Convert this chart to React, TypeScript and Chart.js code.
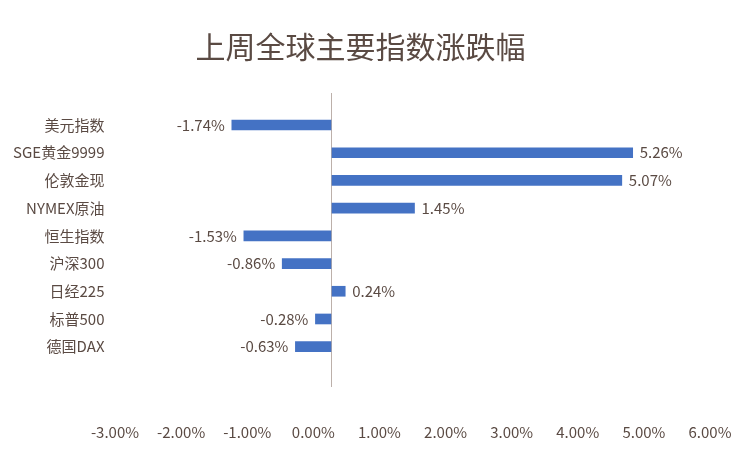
import React, { useEffect, useRef } from 'react';
import { Chart, registerables } from 'chart.js';

Chart.register(...registerables);

const chartTitle = '上周全球主要指数涨跌幅';
const categories = ['美元指数', 'SGE黄金9999', '伦敦金现', 'NYMEX原油', '恒生指数', '沪深300', '日经225', '标普500', '德国DAX'];
const changes = [-1.74, 5.26, 5.07, 1.45, -1.53, -0.86, 0.24, -0.28, -0.63];

// tick-label axis (as printed under the chart)
const tickAxisMin = -3;
const tickAxisMax = 6;
const tickStep = 1;
// value axis the bars are drawn on
const barAxisMin = -3.78;
const barAxisMax = 6.61;
// row axis (category index)
const rowAxisMin = -1.155;
const rowAxisMax = 9.455;

const TEXT = '#5a4a43';
const LINE = '#bcb0aa';
const BAR = '#4472C4';
const FONT = '"Noto Sans CJK SC", "Noto Sans", sans-serif';

const fmt = (v: number) => v.toFixed(2) + '%';

const valueLabels = {
  id: 'valueLabels',
  afterDatasetsDraw(chart: any) {
    const { ctx } = chart;
    const meta = chart.getDatasetMeta(0);
    ctx.save();
    ctx.font = `15px ${FONT}`;
    ctx.fillStyle = TEXT;
    ctx.textBaseline = 'middle';
    meta.data.forEach((el: any, i: number) => {
      const v = changes[i];
      const pos = v >= 0;
      ctx.textAlign = pos ? 'left' : 'right';
      ctx.fillText(fmt(v), el.x + (pos ? 7 : -7), el.y);
    });
    ctx.restore();
  },
};

export default function App() {
  const canvasRef = useRef<HTMLCanvasElement | null>(null);

  useEffect(() => {
    if (!canvasRef.current) return;
    const chart = new Chart(canvasRef.current, {
      type: 'bar',
      data: {
        datasets: [
          {
            data: changes.map((v, i) => ({ x: v, y: i })),
            backgroundColor: BAR,
            barThickness: 10,
            xAxisID: 'x',
            yAxisID: 'y',
          } as any,
        ],
      },
      options: {
        indexAxis: 'y',
        animation: false,
        responsive: false,
        devicePixelRatio: 1,
        layout: { padding: { top: 93, right: 40, bottom: 18, left: 0 } },
        plugins: {
          legend: { display: false },
          tooltip: { enabled: false },
          title: { display: false },
        },
        scales: {
          x: {
            type: 'linear',
            position: 'top',
            min: barAxisMin,
            max: barAxisMax,
            offset: false,
            ticks: { display: false, stepSize: 1 },
            grid: {
              drawTicks: false,
              lineWidth: 1,
              color: (c: any) => (c.tick && c.tick.value === 0 ? LINE : 'rgba(0,0,0,0)'),
            },
            border: { display: false },
          },
          x2: {
            type: 'linear',
            position: 'bottom',
            min: tickAxisMin,
            max: tickAxisMax,
            offset: false,
            afterFit: (s: any) => {
              s.height = 54;
              s.paddingLeft = 0;
              s.paddingRight = 0;
            },
            ticks: {
              stepSize: tickStep,
              padding: 36,
              color: TEXT,
              font: { size: 15, family: FONT },
              autoSkip: false,
              maxRotation: 0,
              callback: (v: any) => fmt(Number(v)),
            },
            grid: { display: false, drawTicks: false },
            border: { display: false },
          },
          y: {
            type: 'linear',
            min: rowAxisMin,
            max: rowAxisMax,
            reverse: true,
            offset: false,
            afterBuildTicks: (s: any) => {
              s.ticks = categories.map((_, i) => ({ value: i }));
            },
            afterFit: (s: any) => {
              s.width = 115;
              s.paddingTop = 0;
              s.paddingBottom = 0;
            },
            ticks: {
              padding: 10.5,
              color: TEXT,
              font: { size: 15, family: FONT },
              autoSkip: false,
              callback: (v: any) => categories[Number(v)] ?? '',
            },
            grid: { display: false, drawTicks: false },
            border: { display: false },
          },
        } as any,
      },
      plugins: [valueLabels],
    });
    return () => chart.destroy();
  }, []);

  return (
    <div style={{ position: 'absolute', left: 0, top: 0, width: 750, height: 459, background: '#fff' }}>
      <canvas ref={canvasRef} width={750} height={459} style={{ display: 'block' }} />
      <div
        style={{
          position: 'absolute',
          left: 0,
          top: 30,
          width: 721,
          textAlign: 'center',
          fontFamily: FONT,
          fontSize: 30,
          lineHeight: '30px',
          color: TEXT,
          whiteSpace: 'nowrap',
        }}
      >
        {chartTitle}
      </div>
    </div>
  );
}
